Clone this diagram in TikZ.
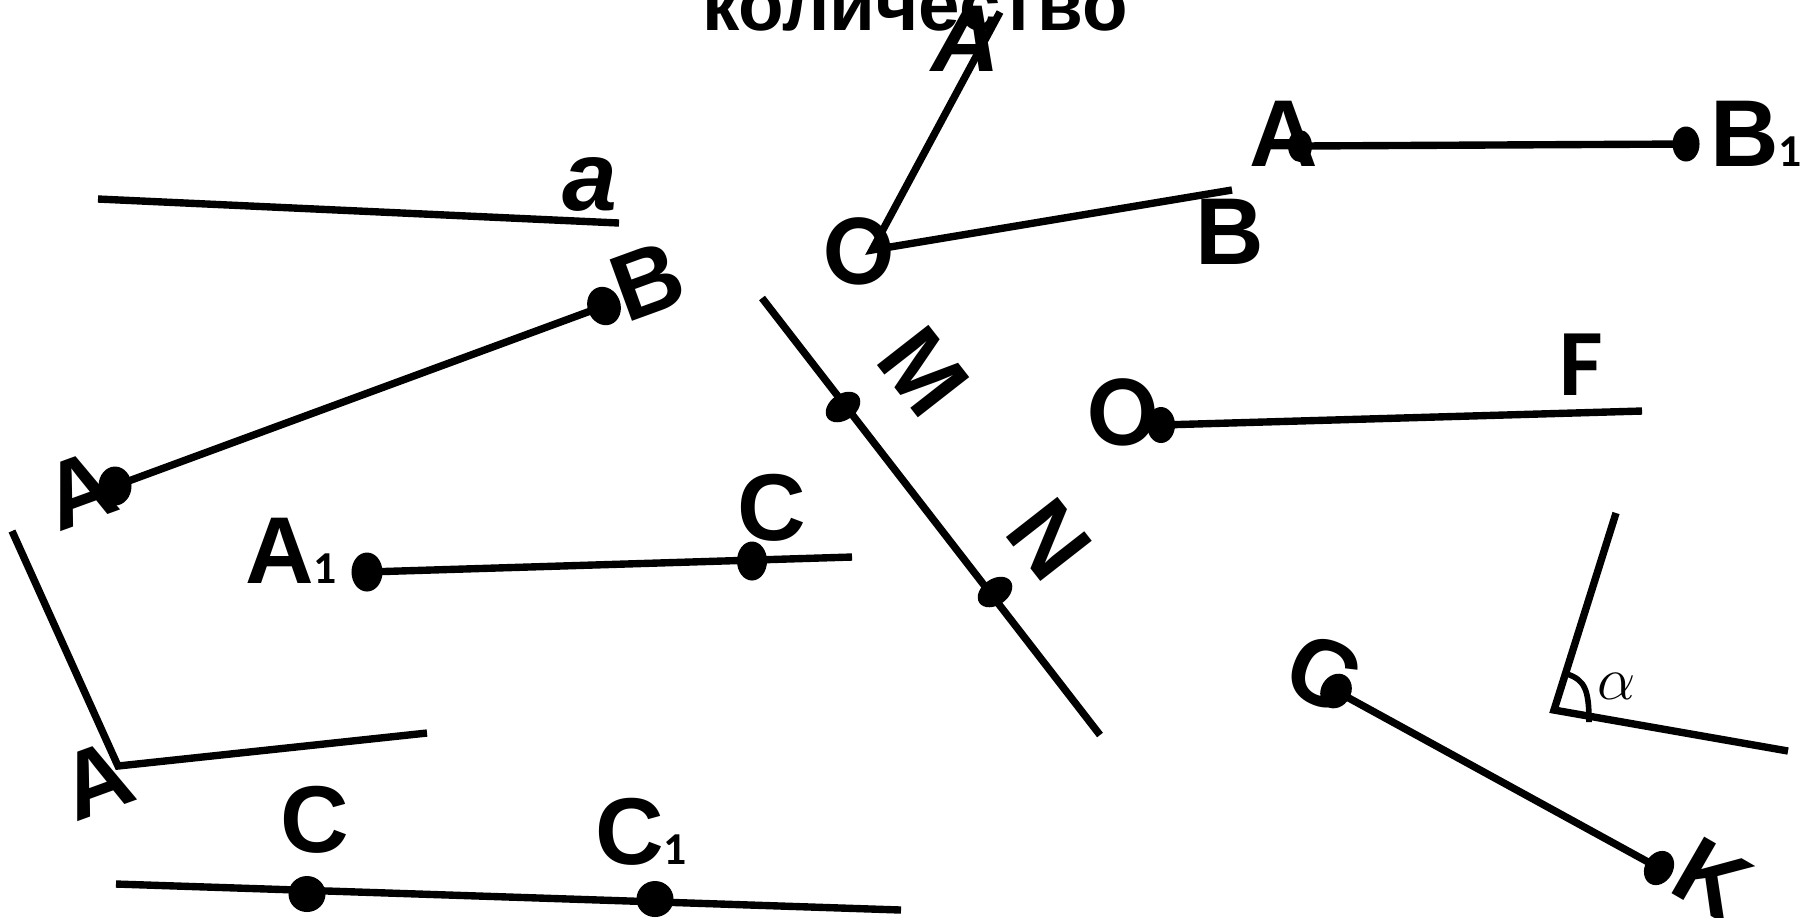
\documentclass[tikz,border=0pt]{standalone}
\usepackage{fontspec}
\setmainfont{Liberation Sans}
\newfontfamily\calibrifont{Carlito}
\usetikzlibrary{shapes.geometric}
\newcommand{\lowidx}[1]{{\calibrifont\fontsize{13}{13}\selectfont #1}}

\begin{document}
\begin{tikzpicture}[x=0.01cm, y=-0.01cm,
  seg/.style={line width=2.1pt},
  pt/.style={ellipse, fill, inner sep=0pt, minimum width=0.33cm, minimum height=0.39cm},
  lbl/.style={inner sep=0pt, font=\bfseries\fontsize{27}{27}\selectfont},
  lblc/.style={inner sep=0pt, font=\calibrifont\bfseries\fontsize{29}{29}\selectfont}]
\useasboundingbox (0,0) rectangle (1810,917);

\node[lbl, anchor=base] (title) at (915,30) {\fontsize{21.2}{21.2}\selectfont количество};

% line a
\coordinate (a1) at (98,199);
\coordinate (a2) at (619,223);
\draw[seg] (a1) -- (a2);
\node[lbl, font=\bfseries\itshape\fontsize{28}{28}\selectfont] (la) at (590,184) {a};

% segment AB
\node[pt] (pA) at (115,486) {};
\node[pt, rotate=20] (pB) at (604,306) {};
\draw[seg] (pA.center) -- (pB.center);
\node[lbl, rotate=20] (lA) at (80,490) {A};
\node[lbl, rotate=20] (lB) at (648,281) {B};

% angle OA, OB
\coordinate (vO) at (872,250);
\coordinate (eA) at (1000,12);
\coordinate (eB) at (1232,190);
\draw[seg] (eA) -- (vO) -- (eB);
\node[lblc] (lO) at (859,251) {O};
\node[lbl, font=\bfseries\itshape\fontsize{27}{27}\selectfont] (lAt) at (966,39) {A};
\node[lbl] (lBo) at (1230,232) {B};

% segment AB1
\node[pt, minimum width=0.24cm, minimum height=0.32cm] (pA2) at (1300,146) {};
\node[pt, minimum width=0.27cm, minimum height=0.35cm] (pB1) at (1686,144) {};
\draw[seg] (pA2.center) -- (pB1.center);
\node[lbl] (lA2) at (1284,134) {A};
\node[lbl] (lB1) at (1756,134) {B\lowidx{1}};

% ray A1C
\node[pt, minimum width=0.31cm] (pA1) at (367,572) {};
\coordinate (eC) at (852,557);
\node[pt, minimum width=0.3cm] (pC) at (752,561) {};
\draw[seg] (pA1.center) -- (eC);
\node[lbl] (lA1) at (291,551) {A\lowidx{1}};
\node[lbl] (lC) at (772,508) {C};

% angle at A
\coordinate (kTop) at (12,531);
\coordinate (kA) at (118,766);
\coordinate (kRight) at (427,733);
\draw[seg] (kTop) -- (kA) -- (kRight);
\node[lbl, rotate=20] (lAk) at (97,780) {A};

% line CC1
\coordinate (c1) at (116,884);
\coordinate (c2) at (901,910);
\draw[seg] (c1) -- (c2);
\node[pt, minimum width=0.37cm, minimum height=0.36cm] (pCb) at (307,894) {};
\node[pt, minimum width=0.37cm, minimum height=0.36cm] (pC1b) at (655,899) {};
\node[lbl] (lCb) at (315,820) {C};
\node[lbl] (lC1b) at (641,832) {C\lowidx{1}};

% line MN
\coordinate (m1) at (762,298);
\coordinate (m2) at (1100,735);
\draw[seg] (m1) -- (m2);
\node[pt, minimum width=0.38cm, minimum height=0.26cm, rotate=35] (pM) at (843,407) {};
\node[pt, minimum width=0.38cm, minimum height=0.26cm, rotate=35] (pN) at (995,592) {};
\node[lbl, rotate=-52] (lM) at (924,372) {M};
\node[lbl, rotate=-52] (lN) at (1049,539) {N};

% ray OF
\node[pt, minimum width=0.28cm, minimum height=0.36cm] (pO) at (1161,425) {};
\coordinate (eF) at (1642,411);
\draw[seg] (pO.center) -- (eF);
\node[lblc] (lO2) at (1123,412) {O};
\node[lblc, font=\calibrifont\bfseries\fontsize{27}{27}\selectfont] (lF) at (1581,365) {F};

% segment CK
\node[pt, minimum width=0.3cm, minimum height=0.36cm, rotate=-30] (pC3) at (1336,691) {};
\node[pt, minimum width=0.28cm, minimum height=0.36cm, rotate=-30] (pK) at (1659,868) {};
\draw[seg] (pC3.center) -- (pK.center);
\node[lbl, rotate=-22] (lC3) at (1324,673) {C};
\node[lbl, rotate=-30] (lK) at (1712,879) {K};

% angle alpha
\coordinate (vAl) at (1554,710);
\coordinate (al1) at (1616,513);
\coordinate (al2) at (1788,751);
\draw[seg] (al1) -- (vAl) -- (al2);
\coordinate (arcS) at (1567,674);
\coordinate (arcE) at (1589,722);
\draw[line width=1.6pt] (arcS) .. controls (1585,680) and (1589,690) .. (arcE);
\node[inner sep=0pt, font=\fontsize{19}{19}\selectfont] (lal) at (1617,686) {$\alpha$};
\end{tikzpicture}
\end{document}
